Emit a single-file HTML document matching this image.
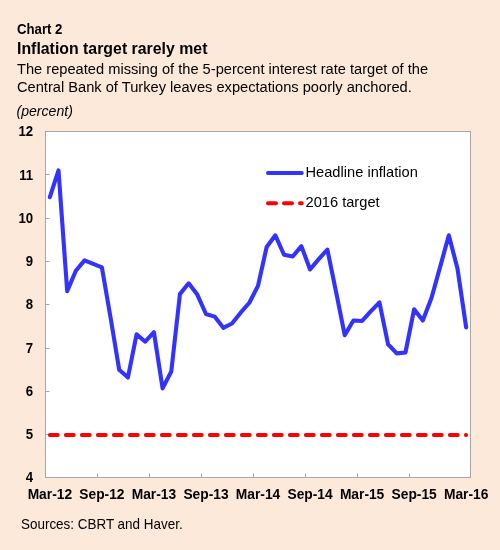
<!DOCTYPE html>
<html><head><meta charset="utf-8"><style>
html,body{margin:0;padding:0;}
body{width:500px;height:550px;background:#FDE9D9;overflow:hidden;}
svg{position:absolute;left:0;top:0;will-change:transform;}
text{font-family:"Liberation Sans",sans-serif;fill:#000;}
.b{font-weight:bold;}
</style></head><body>
<svg width="500" height="550" viewBox="0 0 500 550">
<rect x="0" y="0" width="500" height="550" fill="#FDE9D9"/>
<text class="b" transform="translate(17.00,34.00) scale(1,1.05)" font-size="13.2">Chart 2</text>
<text class="b" transform="translate(17.00,54.00) scale(1,1.05)" font-size="15.87">Inflation target rarely met</text>
<text transform="translate(17.00,74.20) scale(1,1.05)" font-size="14.66">The repeated missing of the 5-percent interest rate target of the</text>
<text transform="translate(17.00,92.20) scale(1,1.05)" font-size="14.66">Central Bank of Turkey leaves expectations poorly anchored.</text>
<text transform="translate(16.50,115.60) scale(1,1.05)" font-size="14.1" font-style="italic">(percent)</text>

<rect x="45.5" y="131.5" width="425.0" height="346.0" fill="#FFFFFF" stroke="#A6A6A6" stroke-width="1"/>
<g stroke="#A6A6A6" stroke-width="1"><line x1="97.5" y1="473.5" x2="97.5" y2="477.5"/><line x1="149.5" y1="473.5" x2="149.5" y2="477.5"/><line x1="201.5" y1="473.5" x2="201.5" y2="477.5"/><line x1="253.5" y1="473.5" x2="253.5" y2="477.5"/><line x1="305.5" y1="473.5" x2="305.5" y2="477.5"/><line x1="357.5" y1="473.5" x2="357.5" y2="477.5"/><line x1="409.5" y1="473.5" x2="409.5" y2="477.5"/><line x1="45.5" y1="434.5" x2="49.5" y2="434.5"/><line x1="45.5" y1="391.5" x2="49.5" y2="391.5"/><line x1="45.5" y1="348.5" x2="49.5" y2="348.5"/><line x1="45.5" y1="304.5" x2="49.5" y2="304.5"/><line x1="45.5" y1="261.5" x2="49.5" y2="261.5"/><line x1="45.5" y1="218.5" x2="49.5" y2="218.5"/><line x1="45.5" y1="174.5" x2="49.5" y2="174.5"/></g>
<line x1="49.84" y1="435.0" x2="466.16" y2="435.0" stroke="#FF0000" stroke-width="3.9" stroke-linecap="round" stroke-dasharray="8 8"/>
<polyline points="49.84,197.24 58.51,170.43 67.18,291.09 75.86,270.76 84.53,260.38 93.20,263.85 101.88,267.31 110.55,317.48 119.22,369.81 127.90,377.59 136.57,334.34 145.24,341.70 153.92,332.18 162.59,388.41 171.27,371.54 179.94,294.12 188.61,283.31 197.29,294.55 205.96,314.01 214.63,316.61 223.31,327.86 231.98,323.53 240.65,312.72 249.33,302.77 258.00,285.90 266.67,246.98 275.35,235.30 284.02,254.76 292.69,256.49 301.37,246.11 310.04,269.47 318.71,259.09 327.39,249.57 336.06,291.96 344.73,335.21 353.41,320.50 362.08,320.94 370.76,311.42 379.43,302.34 388.10,344.29 396.78,353.37 405.45,352.51 414.12,309.26 422.80,320.50 431.47,298.01 440.14,266.87 448.82,235.30 457.49,268.60 466.16,327.42" fill="none" stroke="#3333FF" stroke-width="4.1" stroke-linejoin="round" stroke-linecap="round"/>
<line x1="268" y1="173.0" x2="301.8" y2="173.0" stroke="#3333FF" stroke-width="4.0" stroke-linecap="round"/>
<line x1="268" y1="203.2" x2="301.8" y2="203.2" stroke="#FF0000" stroke-width="4.0" stroke-linecap="round" stroke-dasharray="8 8"/>
<text transform="translate(305.50,176.80) scale(1,1.05)" font-size="14.65">Headline inflation</text>
<text transform="translate(305.50,206.80) scale(1,1.05)" font-size="14.65">2016 target</text>

<g>
<text class="b" transform="translate(33.10,482.30) scale(1,1.05)" font-size="13.2" text-anchor="end">4</text>
<text class="b" transform="translate(33.10,439.05) scale(1,1.05)" font-size="13.2" text-anchor="end">5</text>
<text class="b" transform="translate(33.10,395.80) scale(1,1.05)" font-size="13.2" text-anchor="end">6</text>
<text class="b" transform="translate(33.10,352.55) scale(1,1.05)" font-size="13.2" text-anchor="end">7</text>
<text class="b" transform="translate(33.10,309.30) scale(1,1.05)" font-size="13.2" text-anchor="end">8</text>
<text class="b" transform="translate(33.10,266.05) scale(1,1.05)" font-size="13.2" text-anchor="end">9</text>
<text class="b" transform="translate(33.10,222.80) scale(1,1.05)" font-size="13.2" text-anchor="end">10</text>
<text class="b" transform="translate(33.10,179.55) scale(1,1.05)" font-size="13.2" text-anchor="end">11</text>
<text class="b" transform="translate(33.10,136.30) scale(1,1.05)" font-size="13.2" text-anchor="end">12</text>
</g>
<g>
<text class="b" transform="translate(49.84,499.30) scale(1,1.05)" font-size="13.8" text-anchor="middle">Mar-12</text>
<text class="b" transform="translate(101.88,499.30) scale(1,1.05)" font-size="13.8" text-anchor="middle">Sep-12</text>
<text class="b" transform="translate(153.92,499.30) scale(1,1.05)" font-size="13.8" text-anchor="middle">Mar-13</text>
<text class="b" transform="translate(205.96,499.30) scale(1,1.05)" font-size="13.8" text-anchor="middle">Sep-13</text>
<text class="b" transform="translate(258.00,499.30) scale(1,1.05)" font-size="13.8" text-anchor="middle">Mar-14</text>
<text class="b" transform="translate(310.04,499.30) scale(1,1.05)" font-size="13.8" text-anchor="middle">Sep-14</text>
<text class="b" transform="translate(362.08,499.30) scale(1,1.05)" font-size="13.8" text-anchor="middle">Mar-15</text>
<text class="b" transform="translate(414.12,499.30) scale(1,1.05)" font-size="13.8" text-anchor="middle">Sep-15</text>
<text class="b" transform="translate(466.16,499.30) scale(1,1.05)" font-size="13.8" text-anchor="middle">Mar-16</text>
</g>
<text transform="translate(21.00,528.70) scale(1,1.05)" font-size="13.45">Sources: CBRT and Haver.</text>

</svg>
</body></html>
